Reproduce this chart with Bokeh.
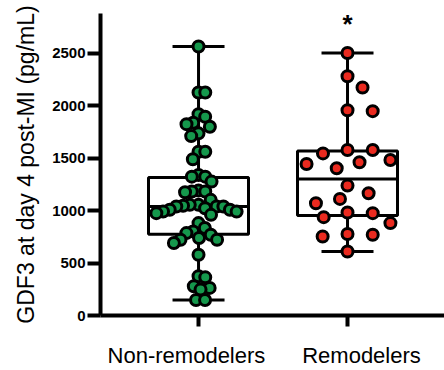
import math
from bokeh.plotting import figure
from bokeh.models import Range1d, FixedTicker, Label, ColumnDataSource, LinearAxis
from bokeh.embed import file_html
from bokeh.resources import INLINE

# ---------------- data ----------------
categories = ["Non-remodelers", "Remodelers"]

non_remodelers = [2566, 2127, 2127, 1920, 1895, 1838, 1825, 1800, 1737, 1711,
                  1562, 1562, 1490, 1340, 1324, 1324, 1277, 1191, 1182, 1182,
                  1176, 1103, 1055, 1055, 1046, 1039, 1039, 1039, 1023, 1008,
                  1008, 991, 991, 976, 960, 881, 834, 802, 786, 770,
                  739, 722, 722, 691, 580, 374, 364, 279, 263, 247,
                  148, 148]

remodelers = [2503, 2281, 2174, 1958, 1949, 1578, 1578, 1546, 1483, 1461,
              1445, 1404, 1239, 1166, 1112, 1071, 982, 976, 938, 881,
              777, 770, 754, 611]

box_q1 = [776, 953]
box_median = [1040, 1302]
box_q3 = [1315, 1568]

y_ticks = [0, 500, 1000, 1500, 2000, 2500]
y_label = "GDF3 at day 4 post-MI (pg/mL)"
significance = ["", "*"]

colors = ["#15984c", "#ea2a1f"]

# ---------------- layout ----------------
W, H = 444, 370
left_b, right_b, top_b, bottom_b = 100, 0, 13, 54
x_start, x_end = 0.342, 2.651
y_start, y_end = 0, 2880

frame_w = W - left_b - right_b
frame_h = H - top_b - bottom_b
ppx = frame_w / (x_end - x_start)
ppy = frame_h / (y_end - y_start)


def swarm_px(vals, dx_min, dy_min):
    """Beeswarm with an elliptical collision zone (pixel units)."""
    order = sorted(range(len(vals)), key=lambda i: -vals[i])
    placed = []
    offs = [0.0] * len(vals)
    for i in order:
        y = vals[i] * ppy
        cands = [0.0]
        for (xj, yj) in placed:
            dy = abs(y - yj)
            if dy < dy_min:
                d = dx_min * math.sqrt(1 - (dy / dy_min) ** 2)
                cands += [xj + d, xj - d]
        ok = [c for c in cands
              if all(((c - xj) / dx_min) ** 2 + ((y - yj) / dy_min) ** 2 >= 1 - 1e-9
                     for (xj, yj) in placed)]
        best = min(ok, key=lambda c: (round(abs(c), 6), -c))
        placed.append((best, y))
        offs[i] = best
    return offs


def fit_swarm(vals, half_width, dy_min=14.0):
    """Widest horizontal spacing whose swarm still fits within +-half_width pixels."""
    dx = 30.0
    while dx > 2.0:
        offs = swarm_px(vals, dx, dy_min)
        if max(abs(o) for o in offs) <= half_width:
            break
        dx -= 0.25
    return [o / ppx for o in offs]


p = figure(width=W, height=H,
           x_range=Range1d(x_start, x_end), y_range=Range1d(y_start, y_end),
           output_backend="svg", toolbar_location=None,
           min_border_left=left_b, min_border_right=right_b,
           min_border_top=top_b, min_border_bottom=bottom_b)
p.outline_line_color = None
p.xgrid.visible = False
p.ygrid.visible = False
p.background_fill_color = "white"
p.border_fill_color = "white"

groups = [non_remodelers, remodelers]
box_half = 50 / ppx
cap_half = 26 / ppx

for k, vals in enumerate(groups):
    c = k + 1
    lo, hi = min(vals), max(vals)
    p.quad(left=[c - box_half], right=[c + box_half], bottom=[box_q1[k]], top=[box_q3[k]],
           fill_color=None, line_color="black", line_width=3)
    p.segment(x0=[c - box_half], x1=[c + box_half], y0=[box_median[k]], y1=[box_median[k]],
              line_color="black", line_width=3)
    p.segment(x0=[c, c], x1=[c, c], y0=[box_q3[k], box_q1[k]], y1=[hi, lo],
              line_color="black", line_width=3)
    p.segment(x0=[c - cap_half, c - cap_half], x1=[c + cap_half, c + cap_half],
              y0=[hi, lo], y1=[hi, lo], line_color="black", line_width=3)

for k, vals in enumerate(groups):
    c = k + 1
    offs = fit_swarm(vals, 43.0)
    src = ColumnDataSource(dict(x=[c + o for o in offs], y=vals))
    p.scatter(x="x", y="y", source=src, size=11, fill_color=colors[k],
              line_color="black", line_width=3)

for k, mark in enumerate(significance):
    if mark:
        p.add_layout(Label(x=k + 1, y=max(groups[k]), y_offset=29, text=mark,
                           text_align="center", text_baseline="alphabetic",
                           text_font="Liberation Sans", text_font_style="bold",
                           text_font_size="26px", text_color="black"))

# y axis
ya = p.yaxis[0]
ya.ticker = FixedTicker(ticks=y_ticks)
ya.axis_line_width = 4
ya.major_tick_line_width = 4
ya.major_tick_out = 13
ya.major_tick_in = 0
ya.minor_tick_line_color = None
ya.major_label_text_font = "Liberation Sans"
ya.major_label_text_font_style = "bold"
ya.major_label_text_font_size = "15px"
ya.major_label_standoff = 2
ya.major_label_text_color = "black"
ya.axis_label = y_label
ya.axis_label_text_font = "Liberation Sans"
ya.axis_label_text_font_style = "normal"
ya.axis_label_text_font_size = "23px"
ya.axis_label_text_color = "black"
ya.axis_label_standoff = 10

# x axis: tick marks at the categories
xa = p.xaxis[0]
xa.ticker = FixedTicker(ticks=[1, 2])
xa.major_label_overrides = {1: "", 2: ""}
xa.major_label_text_font_size = "1px"
xa.major_label_standoff = 0
xa.axis_line_width = 4
xa.major_tick_line_width = 4
xa.major_tick_out = 11
xa.major_tick_in = 0
xa.minor_tick_line_color = None

# category names, set slightly apart as in the reference
name_shift_px = [-12, 14]
name_pos = [round(k + 1 + name_shift_px[k] / ppx, 3) for k in range(len(categories))]
xl = LinearAxis(ticker=FixedTicker(ticks=name_pos),
                major_label_overrides={name_pos[k]: categories[k] for k in range(len(categories))})
xl.axis_line_color = None
xl.major_tick_line_color = None
xl.minor_tick_line_color = None
xl.major_tick_out = 0
xl.major_tick_in = 0
xl.major_label_standoff = 16
xl.major_label_text_font = "Liberation Sans"
xl.major_label_text_font_size = "22px"
xl.major_label_text_color = "black"
p.add_layout(xl, "below")

open("out.html", "w").write(file_html(p, INLINE))
